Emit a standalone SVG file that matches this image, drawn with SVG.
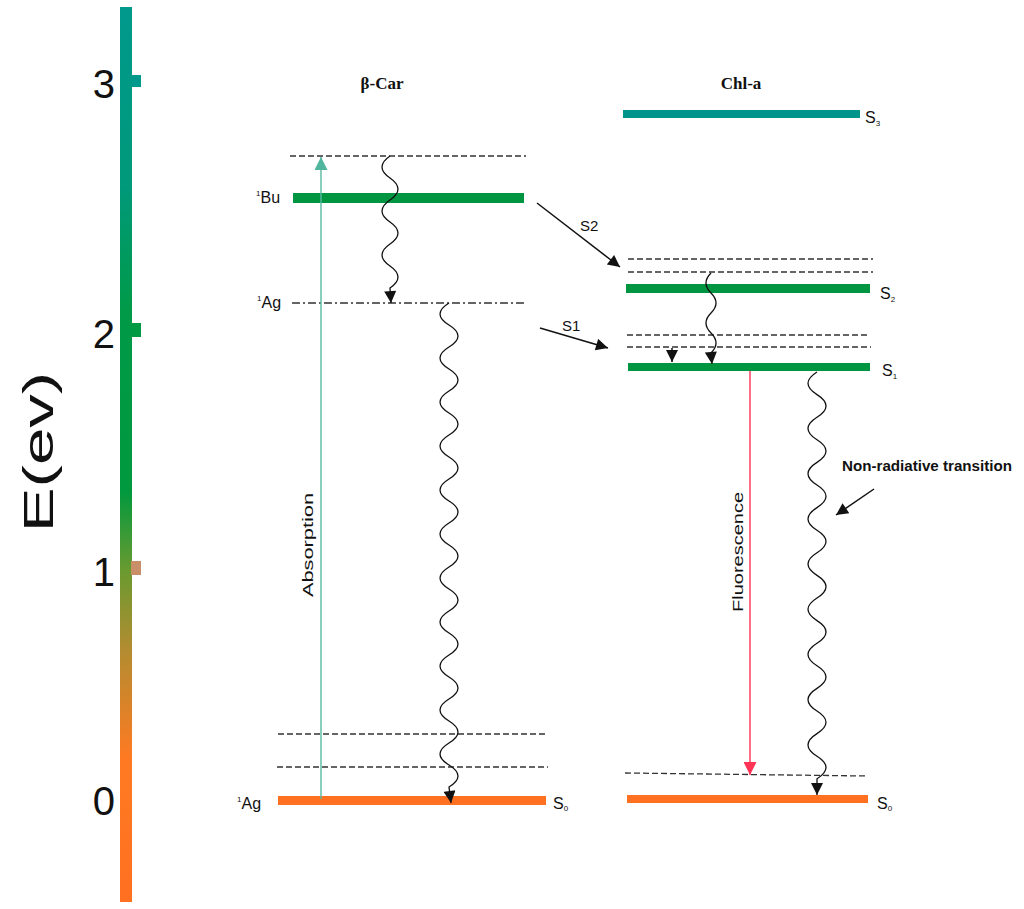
<svg xmlns="http://www.w3.org/2000/svg" width="1024" height="909" viewBox="0 0 1024 909">
<style>
.t{font-family:"Liberation Sans",Arial,sans-serif;fill:#111}
.ax{font-size:40px}
.lbl{font-size:16px}
.sub{font-size:8px}
.hd{font-family:"Liberation Serif","Times New Roman",serif;font-weight:bold;font-size:17px;fill:#111}
.dash{stroke:#333;stroke-width:1.3;stroke-dasharray:6 3;fill:none}
.wave{stroke:#111;stroke-width:1.3;fill:none;marker-end:url(#ah)}
.arr{stroke:#111;stroke-width:1.5;fill:none;marker-end:url(#ah)}
</style>
<defs>
<linearGradient id="axg" x1="0" y1="7" x2="0" y2="902" gradientUnits="userSpaceOnUse">
<stop offset="0" stop-color="#00998c"/>
<stop offset="0.2" stop-color="#00997a"/>
<stop offset="0.34" stop-color="#009a48"/>
<stop offset="0.54" stop-color="#00993e"/>
<stop offset="0.63" stop-color="#6a9a30"/>
<stop offset="0.72" stop-color="#b48c30"/>
<stop offset="0.84" stop-color="#ff7a22"/>
<stop offset="1" stop-color="#ff7020"/>
</linearGradient>
<marker id="ah" viewBox="0 0 10 10" refX="10" refY="5" markerUnits="userSpaceOnUse" markerWidth="14" markerHeight="12" orient="auto">
<path d="M0,0 L10,5 L0,10 z" fill="#111"/>
</marker>
<marker id="ahT" viewBox="0 0 10 10" refX="10" refY="5" markerUnits="userSpaceOnUse" markerWidth="16" markerHeight="13" orient="auto">
<path d="M0,0 L10,5 L0,10 z" fill="#4fb59c"/>
</marker>
<marker id="ahR" viewBox="0 0 10 10" refX="10" refY="5" markerUnits="userSpaceOnUse" markerWidth="16" markerHeight="13" orient="auto">
<path d="M0,0 L10,5 L0,10 z" fill="#ff3355"/>
</marker>
</defs>
<rect width="1024" height="909" fill="#fff"/>

<g id="axis">
<rect x="120" y="7" width="12" height="895" fill="url(#axg)"/>
<rect x="131" y="75" width="10" height="12" fill="#00998c"/>
<rect x="131" y="323" width="10" height="14" fill="#009a45"/>
<rect x="131" y="561" width="10" height="14" fill="#c98f68"/>
<text class="t ax" x="115" y="98" text-anchor="end">3</text>
<text class="t ax" x="115" y="348" text-anchor="end">2</text>
<text class="t ax" x="115" y="586" text-anchor="end">1</text>
<text class="t ax" x="115" y="815" text-anchor="end">0</text>
<text class="t" font-size="42" transform="translate(53,452) rotate(-90) scale(1.6,1)" text-anchor="middle">E(ev)</text>
</g>

<g id="bcar">
<text class="hd" x="382" y="89" text-anchor="middle">β-Car</text>
<line class="dash" x1="290" y1="156" x2="526" y2="156"/>
<rect id="Bu" x="293" y="193" width="231" height="10" fill="#009540"/>
<text class="t lbl" x="256" y="203"><tspan class="sub" dy="-7">1</tspan><tspan dy="7">Bu</tspan></text>
<line x1="292" y1="303" x2="524" y2="303" stroke="#333" stroke-width="1.3" stroke-dasharray="8 3 2 3"/>
<text class="t lbl" x="257" y="308"><tspan class="sub" dy="-7">1</tspan><tspan dy="7">Ag</tspan></text>
<line class="dash" x1="278" y1="734" x2="546" y2="734"/>
<line class="dash" x1="277" y1="767" x2="548" y2="767"/>
<rect x="278" y="796" width="268" height="9" fill="#ff7020"/>
<text class="t lbl" x="237" y="809"><tspan class="sub" dy="-7">1</tspan><tspan dy="7">Ag</tspan></text>
<text class="t lbl" x="553" y="809">S<tspan class="sub" dy="2">0</tspan></text>
</g>

<g id="chla">
<text class="hd" x="741" y="89" text-anchor="middle">Chl-a</text>
<rect x="623" y="110" width="237" height="8" fill="#00948a"/>
<text class="t lbl" x="865" y="123">S<tspan class="sub" dy="3">3</tspan></text>
<line class="dash" x1="628" y1="259" x2="873" y2="259"/>
<line class="dash" x1="628" y1="272" x2="873" y2="272"/>
<rect x="626" y="284" width="244" height="9" fill="#009540"/>
<text class="t lbl" x="880" y="299">S<tspan class="sub" dy="3">2</tspan></text>
<line class="dash" x1="627" y1="335" x2="868" y2="335"/>
<line class="dash" x1="627" y1="347" x2="871" y2="347"/>
<rect x="628" y="363" width="242" height="8" fill="#009540"/>
<text class="t lbl" x="882" y="376">S<tspan class="sub" dy="3">1</tspan></text>
<line class="dash" x1="625" y1="773" x2="868" y2="776"/>
<rect x="627" y="795" width="241" height="8" fill="#ff7020"/>
<text class="t lbl" x="877" y="809">S<tspan class="sub" dy="2">0</tspan></text>
<text class="t" font-size="14" font-weight="bold" x="842" y="471" textLength="170" lengthAdjust="spacingAndGlyphs">Non-radiative transition</text>
</g>

<g id="connectors">
<line x1="321" y1="799" x2="321" y2="157" stroke="#5ab8a2" stroke-width="1.4" marker-end="url(#ahT)"/>
<text class="t" font-size="15" transform="translate(313,545) rotate(-90)" text-anchor="middle" textLength="104" lengthAdjust="spacingAndGlyphs">Absorption</text>
<path class="wave" d="M390,156 q-16,11 0,22 t0,22 t0,22 t0,22 t0,22 t0,22 L391,303"/>
<path class="wave" d="M449,303 q-18,11 0,22 t0,22 t0,22 t0,22 t0,22 t0,22 t0,22 t0,22 t0,22 t0,22 t0,22 t0,22 t0,22 t0,22 t0,22 t0,22 t0,22 t0,22 t0,22 t0,22 t0,22 t0,22 L451,803"/>
<line class="arr" x1="537" y1="203" x2="620" y2="267"/>
<text class="t" font-size="15" x="580" y="231">S2</text>
<line class="arr" x1="540" y1="328" x2="608" y2="348"/>
<text class="t" font-size="15" x="562" y="331">S1</text>
<line class="arr" x1="672" y1="348" x2="672" y2="362"/>
<path class="wave" d="M711,273 q-10,10 0,20 t0,20 t0,20 t0,20 L712,364"/>
<line x1="750" y1="371" x2="750" y2="775" stroke="#ff3355" stroke-width="1.4" marker-end="url(#ahR)"/>
<text class="t" font-size="15" transform="translate(743,552) rotate(-90)" text-anchor="middle" textLength="120" lengthAdjust="spacingAndGlyphs">Fluorescence</text>
<path class="wave" d="M817,372 q-18,11.3 0,22.6 t0,22.6 t0,22.6 t0,22.6 t0,22.6 t0,22.6 t0,22.6 t0,22.6 t0,22.6 t0,22.6 t0,22.6 t0,22.6 t0,22.6 t0,22.6 t0,22.6 t0,22.6 t0,22.6 t0,22.6 L817,795"/>
<line class="arr" x1="874" y1="489" x2="836" y2="515"/>
</g>
</svg>
